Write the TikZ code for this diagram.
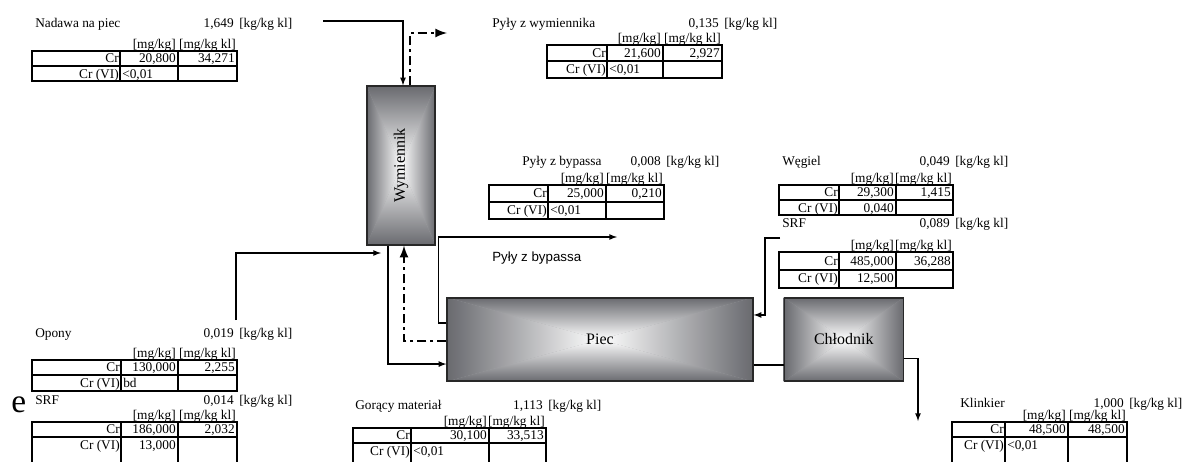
\documentclass[tikz,border=0pt]{standalone}
\usepackage{fontspec}
\setmainfont{Liberation Serif}
\newfontfamily\arialfont{Liberation Sans}
\usepackage{xcolor}
\usepackage{tikz}
\usetikzlibrary{arrows, positioning, backgrounds, calc}

\definecolor{boxgray}{RGB}{104,105,110}
\definecolor{boxline}{RGB}{40,40,40}

\def\crcols#1/#2/#3/#4\relax{\def\tabxa{#1}\def\tabxb{#2}\def\tabxc{#3}\def\tabxd{#4}}
\def\crrows#1/#2/#3\relax{\def\tabya{#1}\def\tabyb{#2}\def\tabyc{#3}}

\newcommand{\crtitle}[6]{%
  \node (#1) [cell, anchor=base west] at (#2,#3) {#5};
  \node (#1-flow) [cell, anchor=base east] at ({#4-3},#3) {#6};
  \node (#1-unit) [cell, anchor=base west] at ({#4+2},#3) {[kg/kg kl]};}

\newcommand{\crtable}[7][l]{%
  \crcols#3\relax \crrows#4\relax
  \draw [tabline] (\tabxa,\tabya) rectangle (\tabxd,\tabyc)
    (\tabxa,\tabyb) -- (\tabxd,\tabyb)
    (\tabxb,\tabya) -- (\tabxb,\tabyc)
    (\tabxc,\tabya) -- (\tabxc,\tabyc);
  \node (#2-mg) [cell, anchor=base east] at ({\tabxc-2},{\tabya-3}) {[mg/kg]};
  \node (#2-mgkl) [cell, anchor=base east] at ({\tabxd-1},{\tabya-3}) {[mg/kg kl]};
  \node (#2-cr) [cell, anchor=base east] at ({\tabxb-1},{(\tabya+\tabyb)/2+4}) {Cr};
  \node (#2-crv) [cell, anchor=base east] at ({\tabxc-2},{(\tabya+\tabyb)/2+4}) {#5};
  \node (#2-crkl) [cell, anchor=base east] at ({\tabxd-2},{(\tabya+\tabyb)/2+4}) {#6};
  \node (#2-vi) [cell, anchor=base east] at ({\tabxb-1},{\tabyb+12.5}) {Cr (VI)};
  \if l#1
    \node (#2-viv) [cell, anchor=base west] at ({\tabxb+2},{\tabyb+12.5}) {#7};
  \else
    \node (#2-viv) [cell, anchor=base east] at ({\tabxc-2},{\tabyb+12.5}) {#7};
  \fi}

\newcommand{\boxshade}[1]{%
  \begin{scope}[on background layer]
    \fill [boxgray!60!white] (#1.north west) rectangle (#1.south east);
    \shade [top color=boxgray, bottom color=white] (#1.north west) -- (#1.north east) -- (#1.center) -- cycle;
    \shade [top color=white, bottom color=boxgray] (#1.south west) -- (#1.south east) -- (#1.center) -- cycle;
    \shade [left color=boxgray, right color=white] (#1.north west) -- (#1.south west) -- (#1.center) -- cycle;
    \shade [left color=white, right color=boxgray] (#1.north east) -- (#1.south east) -- (#1.center) -- cycle;
  \end{scope}}

\begin{document}
\begin{tikzpicture}[x=0.75pt, y=-0.75pt,
    cell/.style={inner sep=0pt, font=\fontsize{10}{12}\selectfont},
    tabline/.style={line width=1.5pt},
    block/.style={draw=boxline, line width=1pt, inner sep=0pt, font=\fontsize{12}{14}\selectfont},
    flow/.style={line width=1pt},
    dashflow/.style={line width=2pt, dash pattern=on 7pt off 3pt on 2pt off 3pt}]
    \useasboundingbox (0,0) rectangle (1185,461);
    \clip (0,0) rectangle (1185,461);

    \node (wym) [block, minimum width=51pt, minimum height=119.25pt] at (401,165.5) {\rotatebox{90}{Wymiennik}};
    \node (piec) [block, minimum width=229.5pt, minimum height=62.25pt] at (600,339.5) {Piec};
    \node (chlod) [block, minimum width=89.25pt, minimum height=62.25pt, right=22.5pt of piec] {Chłodnik};
    \boxshade{wym}
    \boxshade{piec}
    \boxshade{chlod}

    \crtitle{nadawa}{35}{27}{237}{Nadawa na piec}{1,649}
    \crtable{nadawa}{32/120/178/237}{51/66/81}{20,800}{34,271}{<0,01}
    \crtitle{wymout}{492}{27}{722}{Pyły z wymiennika}{0,135}
    \crtable{wymout}{547/607/663/722}{45/61/78}{21,600}{2,927}{<0,01}
    \crtitle{bypass}{522}{165}{664}{Pyły z bypassa}{0,008}
    \crtable{bypass}{489/548/606/664}{185/202/219}{25,000}{0,210}{<0,01}
    \crtitle{wegiel}{782}{165}{953}{Węgiel}{0,049}
    \crtable[r]{wegiel}{779/839/896/953}{185/200/215}{29,300}{1,415}{0,040}
    \crtitle{srfb}{782}{227}{953}{SRF}{0,089}
    \crtable[r]{srfb}{779/839/896/953}{252/270/288}{485,000}{36,288}{12,500}
    \crtitle{opony}{35}{337}{237}{Opony}{0,019}
    \crtable{opony}{32/121/178/237}{360/375/391}{130,000}{2,255}{bd}
    \crtitle{srfa}{35}{404}{237}{SRF}{0,014}
    \crtable[r]{srfa}{32/121/178/237}{422/437/463}{186,000}{2,032}{13,000}
    \crtitle{goracy}{355}{409}{546}{Gorący materiał}{1,113}
    \crtable{goracy}{353/411/489/546}{428/443/463}{30,100}{33,513}{<0,01}
    \crtitle{klinkier}{960}{407}{1127}{Klinkier}{1,000}
    \crtable{klinkier}{952/1005/1068/1127}{422/437/463}{48,500}{48,500}{<0,01}
    \node (stray) [inner sep=0pt, anchor=base west, font=\fontsize{25}{25}\selectfont] at (11,412) {e};

    \coordinate (nadawa-in) at (323,21);
    \coordinate (wymout-end) at (447,33);
    \coordinate (opony-out) at (236,320);
    \coordinate (opony-end) at (381,253);
    \coordinate (bypass-end) at (617,237);
    \coordinate (srfb-in) at (780,238);
    \coordinate (klinkier-in) at (918,421);

    \draw [flow, -latex] (nadawa-in) -| ([xshift=1.5pt]wym.north);
    \draw [dashflow, -latex] ([xshift=6.75pt]wym.north) |- (wymout-end);
    \draw [flow, -latex] (opony-out) |- (opony-end);
    \draw [flow, -latex] ([xshift=-9.75pt]wym.south) |- ([yshift=-18.4pt]piec.west);
    \draw [dashflow, -latex] ([yshift=-1.1pt]piec.west) -| ([xshift=2.25pt]wym.south);
    \draw [flow, -latex] ([yshift=12.4pt]piec.west) -- ++(-6pt,0) |- (bypass-end);
    \node (bypass-lbl) [inner sep=0pt, anchor=base west, font=\arialfont\fontsize{10}{12}\selectfont] at (492,261) {Pyły z bypassa};
    \draw [flow, -latex] (srfb-in) -- ++(-11.25pt,0) |- ([yshift=18.4pt]piec.east);
    \draw [flow] ([yshift=-19pt]piec.east) -- ([yshift=-19pt]chlod.west);
    \draw [flow, -latex] ([yshift=-14pt]chlod.east) -| (klinkier-in);
\end{tikzpicture}
\end{document}
